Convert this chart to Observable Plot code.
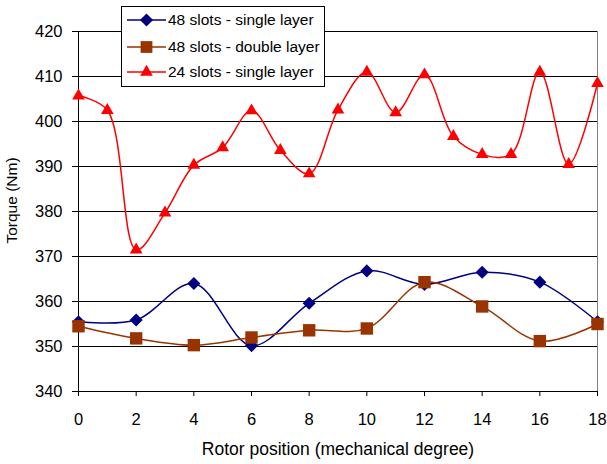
<!DOCTYPE html>
<html><head><meta charset="utf-8">
<script src="https://cdn.jsdelivr.net/npm/d3@7"></script>
<script src="https://cdn.jsdelivr.net/npm/@observablehq/plot@0.6"></script>
<style>
body{margin:0;background:#fff;font-family:"Liberation Sans",Arial,sans-serif}
#chart{position:relative;width:607px;height:464px}
#legend{position:absolute;left:121px;top:6px;width:202px;height:79px;border:1px solid #000;background:#fff}
</style></head><body><div id="chart"></div>
<script>
const positions24 = [0,1,2,3,4,5,6,7,8,9,10,11,12,13,14,15,16,17,18];
const torque24Single = [405.7,402.5,371.5,379.7,390.3,394.2,402.4,393.6,388.4,402.6,411.0,402.0,410.4,396.7,392.7,392.7,411.0,390.5,408.5];
const positions48 = [0,2,4,6,8,10,12,14,16,18];
const torque48Single = [355.5,355.9,364.0,350.2,359.6,366.8,363.8,366.5,364.3,355.5];
const torque48Double = [354.5,351.8,350.3,352.0,353.6,354.0,364.3,358.9,351.2,355.0];
const seriesNames = ["48 slots - single layer","48 slots - double layer","24 slots - single layer"];
const seriesColors = ["#000080","#993300","#ff0000"];
const yTicks = [340,350,360,370,380,390,400,410,420];
const xTicks = [0,2,4,6,8,10,12,14,16,18];

const s1 = positions48.map((x,i)=>({x, y: torque48Single[i]}));
const s2 = positions48.map((x,i)=>({x, y: torque48Double[i]}));
const s3 = positions24.map((x,i)=>({x, y: torque24Single[i]}));

const plot = Plot.plot({
  width: 607, height: 464,
  marginLeft: 78, marginRight: 10, marginTop: 31, marginBottom: 73,
  x: {domain: [0,18]},
  y: {domain: [340,420]},
  style: {fontFamily: '"Liberation Sans", Arial, sans-serif', fontSize: "16px", color: "#000", background: "#fff"},
  marks: [
    Plot.ruleY(yTicks.slice(1), {stroke: "#000", strokeWidth: 1}),
    Plot.ruleX([18], {stroke: "#808080", strokeWidth: 1}),
    Plot.ruleX([0], {stroke: "#000", strokeWidth: 1}),
    Plot.ruleY([340], {stroke: "#000", strokeWidth: 1}),
    Plot.axisY({ticks: yTicks, tickSize: 6, tickPadding: 10, label: null, fontSize: 16.5}),
    Plot.axisX({ticks: xTicks, tickSize: 5, tickPadding: 17, label: null, fontSize: 16.5}),
    Plot.line(s1, {x: "x", y: "y", stroke: seriesColors[0], strokeWidth: 1.5, curve: "catmull-rom"}),
    Plot.line(s2, {x: "x", y: "y", stroke: seriesColors[1], strokeWidth: 1.5, curve: "catmull-rom"}),
    Plot.line(s3, {x: "x", y: "y", stroke: seriesColors[2], strokeWidth: 1.5, curve: "catmull-rom"}),
    Plot.dot(s1, {x: "x", y: "y", symbol: "diamond2", r: 5.9, fill: seriesColors[0], stroke: "none"}),
    Plot.dot(s2, {x: "x", y: "y", symbol: "square", r: 7, fill: seriesColors[1], stroke: "none"}),
    Plot.dot(s3, {x: "x", y: "y", symbol: "triangle", r: 4.7, fill: seriesColors[2], stroke: "none"}),
    Plot.text(["Torque (Nm)"], {frameAnchor: "left", dx: -66, dy: -11, rotate: -90, textAnchor: "middle", lineAnchor: "middle", fontSize: 15.5}),
    Plot.text(["Rotor position (mechanical degree)"], {frameAnchor: "bottom", dy: 58, textAnchor: "middle", lineAnchor: "middle", fontSize: 17.5})
  ]
});
const chart = document.getElementById("chart");
chart.appendChild(plot);

// legend
const legend = document.createElement("div");
legend.id = "legend";
chart.appendChild(legend);
const lsvg = d3.select(legend).append("svg").attr("width", 202).attr("height", 79)
  .style("font-family", '"Liberation Sans", Arial, sans-serif').style("font-size", "15.5px");
const syms = [d3.symbolDiamond2, d3.symbolSquare, d3.symbolTriangle];
const sizes = [Math.PI*5.9*5.9, Math.PI*7*7*0.9, Math.PI*4.7*4.7];
const rowY = [13, 40, 65];
seriesNames.forEach((name, i) => {
  const g = lsvg.append("g").attr("transform", `translate(0,${rowY[i]})`);
  g.append("line").attr("x1", 5).attr("x2", 44).attr("y1", 0).attr("y2", 0)
    .attr("stroke", seriesColors[i]).attr("stroke-width", 1.5);
  g.append("path").attr("d", d3.symbol(syms[i], sizes[i])()).attr("transform", "translate(24.5,0)")
    .attr("fill", seriesColors[i]);
  g.append("text").attr("x", 46).attr("y", 0).attr("dy", "0.35em").text(name);
});
</script></body></html>
